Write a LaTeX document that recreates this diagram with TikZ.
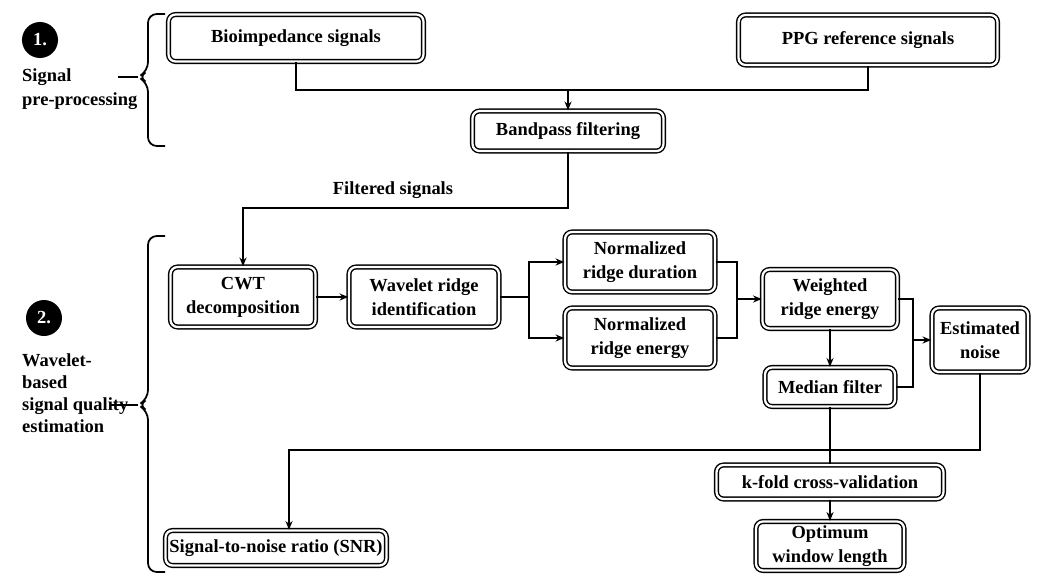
\documentclass[tikz,border=0pt]{standalone}
\usepackage{fontspec}
\setmainfont{Liberation Serif}
\usetikzlibrary{arrows.meta, positioning, calc}

\begin{document}
\begin{tikzpicture}[x=0.02cm, y=-0.02cm,
  every node/.style={font=\bfseries\fontsize{10.5}{13.5}\selectfont},
  box/.style={draw, double, double distance=1.3pt, line width=0.8pt, rounded corners=4pt, align=center, inner sep=2pt},
  arr/.style={line width=1pt, -{Stealth[length=5pt, width=4pt]}},
  con/.style={line width=1pt},
  num/.style={circle, fill=black, text=white, minimum size=0.72cm, inner sep=0pt}]
  \useasboundingbox (0,0) rectangle (1051,575);

  % stage 1: pre-processing
  \node[num] (n1) at (40,40) {1.};
  \node[align=left, anchor=west] (lbl1) at (16,89) {Signal\\pre-processing};
  \draw[con, rounded corners=5pt] (165,14) -- (148,14) -- (148,71) -- (138,77) -- (148,83) -- (148,146) -- (165,146);
  \draw[con] (138,77) -- (118,77);

  \node[box, minimum width=5.1cm, minimum height=0.94cm] (bio) at (296,38) {Bioimpedance signals};
  \node[box, minimum width=5.18cm, minimum height=1.0cm] (ppg) at (868,40) {PPG reference signals};
  \node[box, minimum width=3.82cm, minimum height=0.8cm] (bpf) at (568,131) {Bandpass filtering};
  \coordinate (j1) at (568,90);
  \draw[con] (bio.south) |- (j1) -| (ppg.south);
  \draw[arr] (j1) -- (bpf.north);

  % stage 2: quality estimation
  \node[num] (n2) at (44,318) {2.};
  \node[align=left, anchor=west, font=\bfseries\fontsize{10.5}{12.5}\selectfont] (lbl2) at (16,393) {Wavelet-\\based\\signal quality\\estimation};
  \draw[con, rounded corners=5pt] (165,236) -- (148,236) -- (148,399) -- (138,405) -- (148,411) -- (148,572) -- (165,572);
  \draw[con] (138,405) -- (110,405);

  \node[box, minimum width=2.9cm, minimum height=1.2cm] (cwt) at (243,297) {CWT\\decomposition};
  \node[box, minimum width=3.0cm, minimum height=1.2cm] (ridge) at (424,297) {Wavelet ridge\\identification};
  \node[box, minimum width=3.0cm, minimum height=1.2cm] (dur) at (640,262) {Normalized\\ridge duration};
  \node[box, minimum width=3.0cm, minimum height=1.2cm] (ener) at (640,338) {Normalized\\ridge energy};
  \node[box, minimum width=2.7cm, minimum height=1.18cm] (wre) at (830,299) {Weighted\\ridge energy};
  \node[box, minimum width=2.6cm, minimum height=0.78cm] (med) at (830,387) {Median filter};
  \node[box, minimum width=1.92cm, minimum height=1.28cm] (noise) at (980,340) {Estimated\\noise};
  \node[box, minimum width=4.42cm, minimum height=0.7cm] (snr) at (276,548) {Signal-to-noise ratio (SNR)};
  \node[box, minimum width=4.54cm, minimum height=0.68cm] (kfold) at (830,482) {k-fold cross-validation};
  \node[box, minimum width=2.96cm, minimum height=0.98cm] (opt) at (830,546) {Optimum\\window length};

  \node (filt) at (393,190) {Filtered signals};
  \coordinate (j2) at (568,208);
  \draw[arr] (bpf.south) -- (j2) -| (cwt.north);

  \draw[arr] (cwt) -- (ridge);
  \coordinate (s1) at (529,297);
  \draw[con] (ridge.east) -- (s1);
  \draw[arr] (s1) |- (dur.west);
  \draw[arr] (s1) |- (ener.west);
  \coordinate (s2) at (737,299);
  \draw[con] (dur.east) -| (s2);
  \draw[con] (ener.east) -| (s2);
  \draw[arr] (s2) -- (wre.west);
  \draw[arr] (wre) -- (med);
  \coordinate (s3) at (913,340);
  \draw[con] (wre.east) -| (s3);
  \draw[con] (med.east) -| (s3);
  \draw[arr] (s3) -- (noise.west);
  \coordinate (j3) at (289,450);
  \draw[arr] (noise.south) |- (j3) -- (j3 |- snr.north);
  \draw[con] (med) -- (kfold);
  \draw[arr] (kfold) -- (opt);
\end{tikzpicture}
\end{document}
